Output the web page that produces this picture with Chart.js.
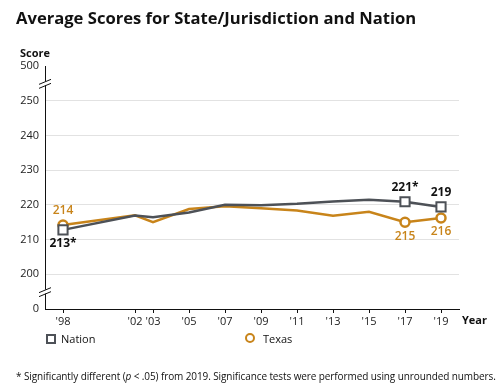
<!DOCTYPE html>
<html>
<head>
<meta charset="utf-8">
<script src="https://cdn.jsdelivr.net/npm/chart.js@4"></script>
<style>
  body { margin: 0; background: #fff; font-family: "Open Sans", sans-serif; color: #111; }
  #wrap { position: relative; width: 500px; height: 389px; overflow: hidden; }
  #wrap canvas { position: absolute; left: 0; top: 0; }
  .txt { position: absolute; white-space: nowrap; }
  #title { left: 16px; top: 6px; font-size: 16.6px; font-weight: 700; }
  #score { left: 20px; top: 45px; font-size: 11px; font-weight: 700; }
  #year { left: 462px; top: 312px; font-size: 11px; font-weight: 700; }
  .leg { top: 331px; font-size: 11px; }
  .sq { position: absolute; width: 6px; height: 6px; border: 2px solid #4d5157; background: #fff; }
  .ci { position: absolute; width: 6px; height: 6px; border: 2.5px solid #c8841a; border-radius: 50%; background: #fff; }
  #note { left: 16px; top: 369px; font-size: 10px; letter-spacing: -0.1px; }
</style>
</head>
<body>
<div id="wrap">
  <canvas id="chart" width="500" height="389"></canvas>
  <div class="txt" id="title">Average Scores for State/Jurisdiction and Nation</div>
  <div class="txt" id="score">Score</div>
  <div class="txt" id="year">Year</div>
  <div class="sq" style="left:46px; top:334px;"></div>
  <div class="txt leg" style="left:61px;">Nation</div>
  <div class="ci" style="left:245px; top:333px;"></div>
  <div class="txt leg" style="left:263px;">Texas</div>
  <div class="txt" id="note">* Significantly different (<i>p</i> &lt; .05) from 2019. Significance tests were performed using unrounded numbers.</div>
</div>
<script>
const years = [1998, 2002, 2003, 2005, 2007, 2009, 2011, 2013, 2015, 2017, 2019];
const nation = [212.8, 216.9, 216.4, 217.8, 220.0, 219.9, 220.3, 221.0, 221.5, 220.9, 219.4];
const texas = [214.2, 217.0, 215.0, 218.8, 219.6, 219.0, 218.4, 216.9, 218.0, 215.0, 216.2];
const nationLabels = ['213*', null, null, null, null, null, null, null, null, '221*', '219'];
const texasLabels = ['214', null, null, null, null, null, null, null, null, '215', '216'];
const markedPoints = [0, 9, 10];

const nationColor = '#4d5157';
const texasColor = '#c8841a';

function markerRadius(r) {
    return years.map((y, i) => markedPoints.includes(i) ? r : 0);
}

// value labels next to the marked points
const pointLabels = {
    id: 'pointLabels',
    afterDatasetsDraw(chart) {
        const ctx = chart.ctx;
        const sets = [
            { meta: chart.getDatasetMeta(0), labels: nationLabels, color: '#111', weight: '700', above: [false, true, true] },
            { meta: chart.getDatasetMeta(1), labels: texasLabels, color: texasColor, weight: '600', above: [true, false, false] }
        ];
        ctx.save();
        ctx.textAlign = 'center';
        ctx.textBaseline = 'middle';
        sets.forEach(s => {
            ctx.fillStyle = s.color;
            ctx.font = s.weight + ' 12px "Open Sans"';
            let k = 0;
            s.labels.forEach((txt, i) => {
                if (!txt) return;
                const pt = s.meta.data[i];
                const dy = s.above[k++] ? -14 : 14;
                ctx.fillText(txt, pt.x, pt.y + dy);
            });
        });
        ctx.restore();
    }
};

// broken axis marks
const axisBreaks = {
    id: 'axisBreaks',
    afterDraw(chart) {
        const ctx = chart.ctx;
        const ys = chart.scales.y;
        const x0 = chart.chartArea.left;
        [ys.getPixelForValue(255), ys.getPixelForValue(195)].forEach(y => {
            ctx.save();
            ctx.fillStyle = '#fff';
            ctx.fillRect(x0 - 2, y - 2, 4, 4);
            ctx.strokeStyle = '#111';
            ctx.lineWidth = 1;
            ctx.beginPath();
            ctx.moveTo(x0 - 6, y + 1); ctx.lineTo(x0 + 6, y - 4);
            ctx.moveTo(x0 - 6, y + 5); ctx.lineTo(x0 + 6, y);
            ctx.stroke();
            ctx.restore();
        });
    }
};

new Chart(document.getElementById('chart'), {
    type: 'line',
    data: {
        datasets: [
            {
                label: 'Nation',
                data: years.map((y, i) => ({ x: y, y: nation[i] })),
                borderColor: nationColor,
                borderWidth: 2.5,
                pointStyle: 'rect',
                pointRadius: markerRadius(6.5),
                pointBorderWidth: 2,
                pointBorderColor: nationColor,
                pointBackgroundColor: '#fff',
                tension: 0
            },
            {
                label: 'Texas',
                data: years.map((y, i) => ({ x: y, y: texas[i] })),
                borderColor: texasColor,
                borderWidth: 2.5,
                pointStyle: 'circle',
                pointRadius: markerRadius(4.5),
                pointBorderWidth: 2.5,
                pointBorderColor: texasColor,
                pointBackgroundColor: '#fff',
                tension: 0
            }
        ]
    },
    options: {
        responsive: false,
        animation: false,
        layout: { padding: { left: 0, top: 66, right: 41, bottom: 0 } },
        plugins: {
            legend: { display: false },
            tooltip: { enabled: false }
        },
        scales: {
            x: {
                type: 'linear',
                min: 1997,
                max: 2020,
                afterBuildTicks: s => { s.ticks = years.map(v => ({ value: v })); },
                afterFit: s => { s.height = 80; },
                border: { color: '#111', width: 1 },
                grid: { drawOnChartArea: false, drawTicks: true, tickLength: 4, color: '#111' },
                ticks: {
                    color: '#222',
                    font: { family: 'Open Sans', size: 11 },
                    padding: 2,
                    maxRotation: 0,
                    callback: v => "'" + String(v).slice(2)
                }
            },
            y: {
                min: 190,
                max: 260,
                afterFit: s => { s.width = 45; },
                border: { color: '#111', width: 1 },
                grid: {
                    drawTicks: false,
                    color: ctx => (ctx.tick && (ctx.tick.value === 190 || ctx.tick.value === 260)) ? 'rgba(0,0,0,0)' : '#e2e2e2'
                },
                ticks: {
                    stepSize: 10,
                    color: '#222',
                    font: { family: 'Open Sans', size: 11 },
                    padding: 6,
                    callback: v => v === 190 ? '0' : v === 260 ? '500' : v
                }
            }
        }
    },
    plugins: [pointLabels, axisBreaks]
});
</script>
</body>
</html>
